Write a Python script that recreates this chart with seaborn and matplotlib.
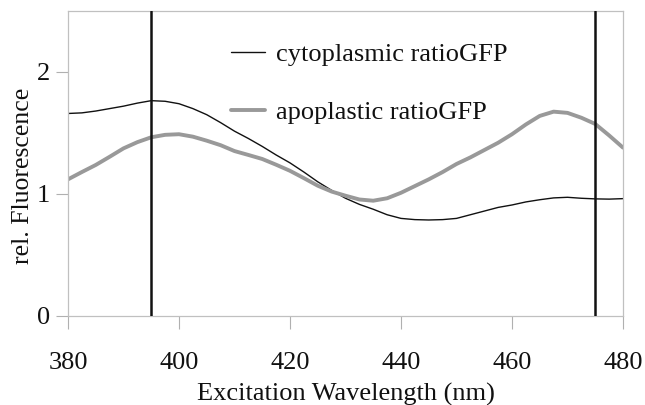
import matplotlib
matplotlib.use("Agg")
import matplotlib.pyplot as plt
import seaborn as sns
import pandas as pd

# Excitation spectra (nm) and relative fluorescence
wavelength = [380, 382.5, 385, 387.5, 390, 392.5, 395, 397.5, 400, 402.5, 405,
              407.5, 410, 412.5, 415, 417.5, 420, 422.5, 425, 427.5, 430,
              432.5, 435, 437.5, 440, 442.5, 445, 447.5, 450, 452.5, 455,
              457.5, 460, 462.5, 465, 467.5, 470, 472.5, 475, 477.5, 480]
cytoplasmic = [1.66, 1.665, 1.68, 1.70, 1.72, 1.745, 1.765, 1.76, 1.74, 1.70, 1.65,
               1.585, 1.515, 1.455, 1.39, 1.32, 1.255, 1.18, 1.10, 1.03, 0.965,
               0.915, 0.875, 0.83, 0.80, 0.79, 0.787, 0.79, 0.80, 0.83, 0.86,
               0.89, 0.91, 0.935, 0.953, 0.968, 0.973, 0.965, 0.96, 0.958, 0.962]
apoplastic = [1.12, 1.18, 1.238, 1.305, 1.374, 1.425, 1.465, 1.485, 1.49, 1.47, 1.437,
              1.40, 1.352, 1.32, 1.287, 1.24, 1.19, 1.13, 1.068, 1.02, 0.986,
              0.955, 0.945, 0.965, 1.01, 1.065, 1.12, 1.18, 1.246, 1.30, 1.36,
              1.42, 1.49, 1.57, 1.64, 1.675, 1.665, 1.625, 1.574, 1.48, 1.38]
series_names = ["cytoplasmic ratioGFP", "apoplastic ratioGFP"]
marker_lines = [395, 475]
x_ticks = [380, 400, 420, 440, 460, 480]
y_ticks = [0, 1, 2]

df = pd.DataFrame({
    "wl": wavelength * 2,
    "val": cytoplasmic + apoplastic,
    "series": [series_names[0]] * len(wavelength) + [series_names[1]] * len(wavelength),
})

sns.set_theme(style="white")
plt.rcParams["font.family"] = ["Liberation Serif", "DejaVu Serif"]

fig = plt.figure(figsize=(6.45, 4.05), dpi=100)
ax = fig.add_axes([68 / 645, 89 / 405, 555 / 645, 305 / 405])

sns.lineplot(data=df, x="wl", y="val", hue="series", size="series",
             palette={series_names[0]: "#111111", series_names[1]: "#999999"},
             sizes={series_names[0]: 1.0, series_names[1]: 2.8},
             ax=ax, legend=True)

for xv in marker_lines:
    ax.axvline(xv, color="#111111", lw=1.8, zorder=5)

ax.set_xlim(380, 480)
ax.set_ylim(0, 2.5)
ax.set_xticks(x_ticks)
ax.set_yticks(y_ticks)
ax.tick_params(axis="both", direction="out", length=9, width=0.8, color="#b0b0b0",
               labelsize=19, labelcolor="#111111", bottom=True, left=True)
ax.tick_params(axis="x", pad=17)
ax.tick_params(axis="y", pad=4)
for sp in ax.spines.values():
    sp.set_color("#c0c0c0")
    sp.set_linewidth(0.9)

ax.set_xlabel("Excitation Wavelength (nm)", fontsize=19, color="#111111", labelpad=6)
ax.set_ylabel("rel. Fluorescence", fontsize=18.5, color="#111111")
ax.yaxis.set_label_coords(-0.062, 0.46)

leg = ax.legend(loc="upper left", bbox_to_anchor=(0.275, 0.93), frameon=False,
                fontsize=19, handlelength=1.3, handletextpad=0.4, labelspacing=1.3,
                borderaxespad=0)
for text in leg.get_texts():
    text.set_color("#111111")

fig.savefig("out.png", dpi=100)
